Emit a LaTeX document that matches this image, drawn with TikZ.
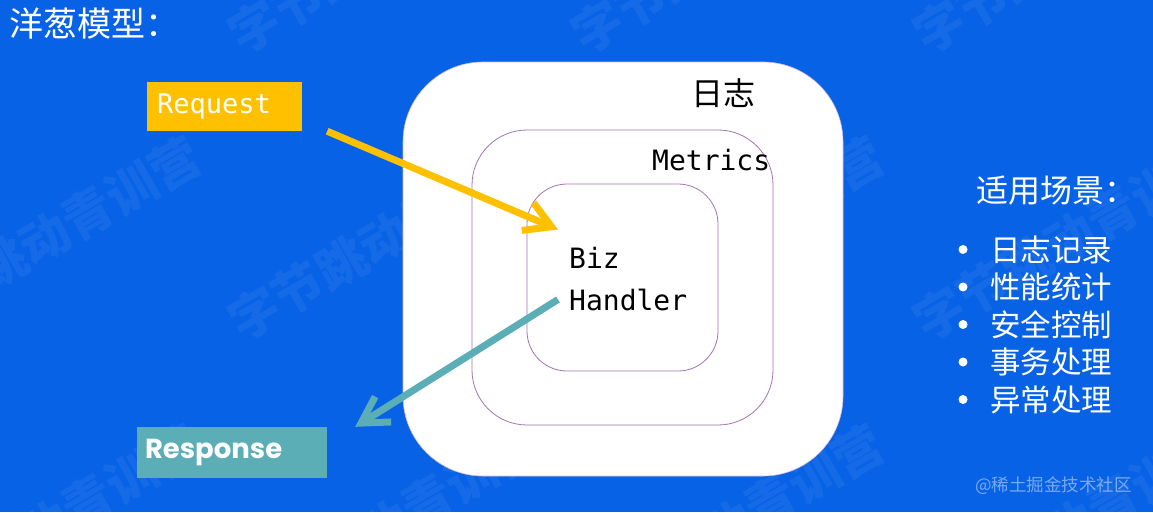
\documentclass[tikz,border=0pt]{standalone}
\usepackage{fontspec}
\setmainfont{Noto Sans CJK SC}
\newfontfamily\monofont{DejaVu Sans Mono}
\newfontfamily\respfont{Poppins}
\usetikzlibrary{arrows.meta,positioning}

\definecolor{bgblue}{RGB}{8,98,230}
\definecolor{reqyellow}{RGB}{255,192,0}
\definecolor{respteal}{RGB}{91,174,182}
\definecolor{ringpurple}{RGB}{165,115,180}

\begin{document}
\begin{tikzpicture}[
    x=1pt, y=-1pt,
    heading/.style={text=white, inner sep=0pt, anchor=west, font=\fontsize{34}{38}\selectfont},
    listitem/.style={text=white, inner sep=0pt, anchor=west, font=\fontsize{30.5}{34}\selectfont},
    ring/.style={draw=ringpurple, line width=0.8pt, rectangle, inner sep=0pt},
    tag/.style={text=black, inner sep=0pt, anchor=base west, font=\monofont\fontsize{28}{32}\selectfont},
    flow/.style={line width=7pt, -{Straight Barb[length=26pt,width=30pt]}},
    wmark/.style={text=white, opacity=0.055, inner sep=0pt, anchor=south west, rotate=30, font=\bfseries\fontsize{50}{56}\selectfont}
]

\fill[bgblue] (0,0) rectangle (1153,512);
\useasboundingbox (0,0) rectangle (1153,512);

% faint watermark
\foreach \wx [count=\i] in {-95,245,588,930}
  \foreach \wy [count=\j] in {60,347,635}
    \node[wmark] (wm\i\j) at (\wx,\wy) {字节跳动青训营};

% onion rings
\node[rectangle, fill=white, draw=ringpurple!50, line width=0.6pt, rounded corners=80pt, minimum width=440pt, minimum height=414pt] (logring) at (623,269) {};
\node[ring, rounded corners=55pt, minimum width=301pt, minimum height=295pt] (metricring) at (622.5,277.5) {};
\node[ring, rounded corners=40pt, minimum width=191pt, minimum height=187pt] (bizring) at (622.5,277.5) {};

\node[text=black, inner sep=0pt, font=\fontsize{32}{36}\selectfont] (logtxt) at (723,93) {日志};
\node[tag] (metricstxt) at (652,170) {Metrics};
\node[tag] (biztxt) at (569,268) {Biz};
\node[tag] (handlertxt) at (569,310) {Handler};

% request / response
\node[fill=reqyellow, minimum width=155pt, minimum height=49pt, inner xsep=10pt, text width=135pt, align=left, text=white, font=\monofont\fontsize{27}{32}\selectfont] (req) at (224.5,106.5) {Request};
\node[fill=respteal, minimum width=190pt, minimum height=51pt, inner xsep=8pt, text width=174pt, align=left, text=white, font=\respfont\bfseries\fontsize{27.5}{32}\selectfont] (resp) at (232,452.5) {Response};

\coordinate[right=25pt of req.south east] (reqtail);
\coordinate[above left=17pt and 11pt of biztxt.north west] (bizin);
\coordinate[left=11pt of handlertxt.west] (handout);
\coordinate[right=28pt of resp.north east] (respin);

\draw[flow, draw=reqyellow] (reqtail) -- (bizin);
\draw[flow, draw=respteal] (handout) -- (respin);

% left title, right list
\node[heading] (title) at (9,24) {洋葱模型：};
\node[heading, font=\fontsize{32}{36}\selectfont] (scenetitle) at (976,191) {适用场景：};
\foreach \txt [count=\k] in {日志记录,性能统计,安全控制,事务处理,异常处理} {
  \node[listitem] (use\k) at (990,212+37.5*\k) {\txt};
  \fill[white] ([xshift=-27pt]use\k.west) circle (4.5pt);
}

\node[text=white, opacity=0.45, anchor=west, inner sep=0pt, font=\fontsize{17.5}{20}\selectfont] (juejin) at (975,486) {@稀土掘金技术社区};

\end{tikzpicture}
\end{document}
